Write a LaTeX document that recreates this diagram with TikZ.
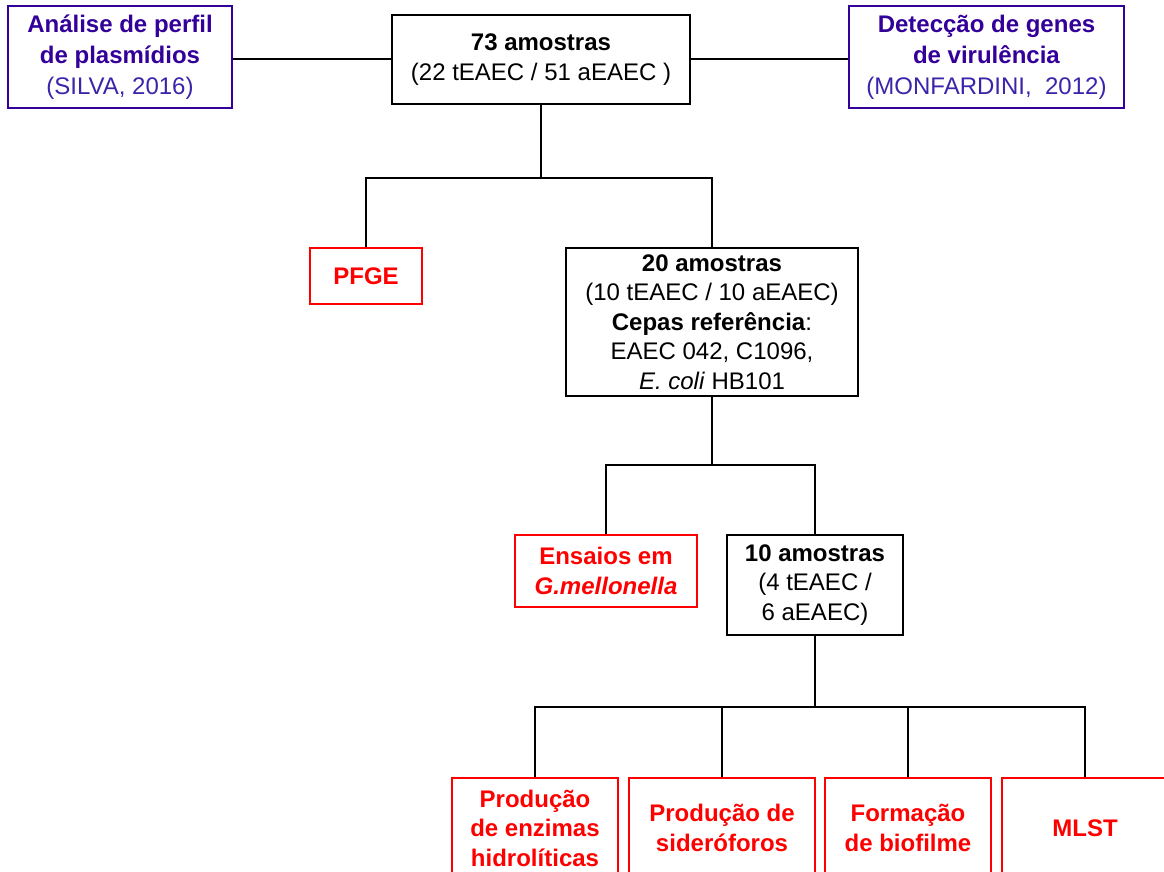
\documentclass[tikz,border=0pt]{standalone}
\usepackage{fontspec}
\setmainfont{Liberation Sans}
\usepackage{tikz}
\definecolor{plasblue}{RGB}{51,0,153}
\definecolor{citeblue}{RGB}{60,36,170}

\begin{document}
\begin{tikzpicture}[x=1pt, y=-1pt,
		caixa/.style={draw=black, line width=2pt, align=center, inner sep=0pt, font=\fontsize{24}{29.5}\selectfont},
		caixaref/.style={caixa, draw=plasblue, text=plasblue, font=\fontsize{24}{31}\selectfont},
		caixateste/.style={caixa, draw=red, text=red, font=\fontsize{24}{29.5}\selectfont\bfseries},
		liga/.style={line width=2pt}]
	\useasboundingbox (0,0) rectangle (1164,872);
	\clip (0,0) rectangle (1164,872);
	% amostras
	\node[caixa, minimum width=298pt, minimum height=89pt] (amostras73) at (541,59.5) {\textbf{73 amostras}\\(22 tEAEC / 51 aEAEC )};
	\node[caixaref, minimum width=224pt, minimum height=102pt] (plasmidios) at (120,57) {\textbf{Análise de perfil}\\\textbf{de plasmídios}\\{\color{citeblue}(SILVA, 2016)}};
	\node[caixaref, minimum width=275pt, minimum height=102pt] (virulencia) at (986.5,57) {\textbf{Detecção de genes}\\\textbf{de virulência}\\{\color{citeblue}(MONFARDINI, \ 2012)}};
	\node[caixateste, minimum width=112pt, minimum height=56pt] (pfge) at (366,276) {PFGE};
	\node[caixa, minimum width=292pt, minimum height=148pt] (amostras20) at (712,322) {\textbf{20 amostras}\\(10 tEAEC / 10 aEAEC)\\\textbf{Cepas referência}:\\EAEC 042, C1096,\\\textit{E. coli} HB101};
	\node[caixateste, minimum width=182pt, minimum height=72pt] (galleria) at (606,571) {Ensaios em\\\textit{G.mellonella}};
	\node[caixa, minimum width=176pt, minimum height=100pt] (amostras10) at (815,585) {\textbf{10 amostras}\\(4 tEAEC /\\6 aEAEC)};
	% testes
	\node[caixateste, minimum width=166pt, minimum height=100pt] (enzimas) at (535,828) {Produção\\de enzimas\\hidrolíticas};
	\node[caixateste, minimum width=186pt, minimum height=100pt] (sideroforos) at (722,828) {Produção de\\sideróforos};
	\node[caixateste, minimum width=166pt, minimum height=100pt] (biofilme) at (908,828) {Formação\\de biofilme};
	\node[caixateste, minimum width=166pt, minimum height=100pt] (mlst) at (1085,828) {MLST};
	% ligacoes
	\coordinate (ramo1) at (541,178);
	\coordinate (ramo2) at (712,465);
	\coordinate (ramo3) at (815,707);
	\draw[liga] (amostras73.west) -- (amostras73.west -| plasmidios.east);
	\draw[liga] (amostras73.east) -- (amostras73.east -| virulencia.west);
	\draw[liga] (amostras73.south) -- (ramo1);
	\draw[liga] (pfge.north) |- (ramo1) -| (amostras20.north);
	\draw[liga] (amostras20.south) -- (ramo2);
	\draw[liga] (galleria.north) |- (ramo2) -| (amostras10.north);
	\draw[liga] (amostras10.south) -- (ramo3);
	\foreach \t in {enzimas, sideroforos, biofilme, mlst}
		\draw[liga] (\t.north) |- (ramo3);
\end{tikzpicture}
\end{document}
